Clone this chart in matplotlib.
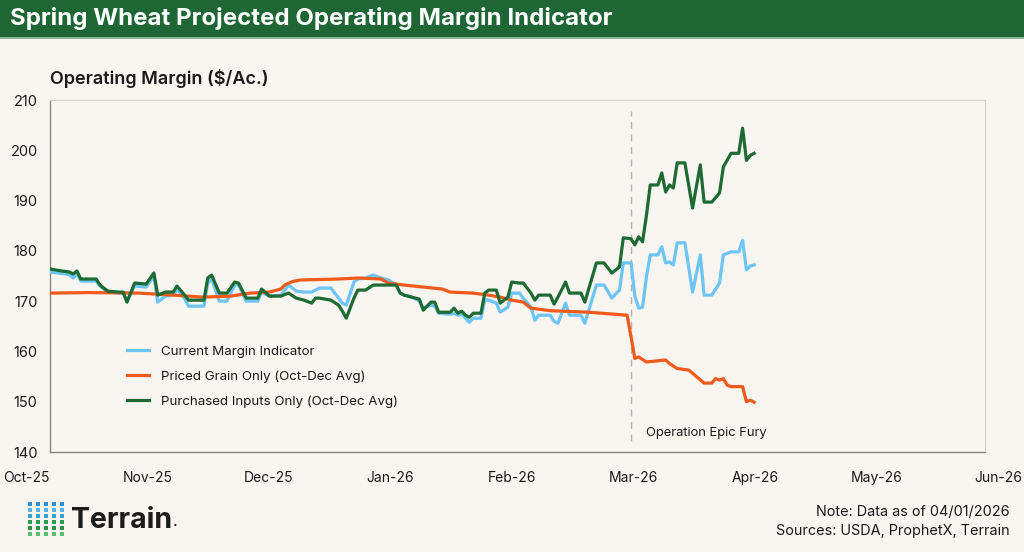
import matplotlib
matplotlib.use("Agg")
import matplotlib.pyplot as plt
import pandas as pd

plt.rcParams['font.family'] = ['Inter', 'DejaVu Sans']

# shared dates for the current margin and purchased-inputs series
dates = [
    "2025-10-01", "2025-10-04", "2025-10-06", "2025-10-07", "2025-10-08", "2025-10-09",
    "2025-10-13", "2025-10-14", "2025-10-16", "2025-10-19", "2025-10-20", "2025-10-21",
    "2025-10-23", "2025-10-26", "2025-10-28", "2025-10-29", "2025-10-31",
    "2025-11-02", "2025-11-03", "2025-11-05", "2025-11-06", "2025-11-10", "2025-11-11",
    "2025-11-12", "2025-11-14", "2025-11-16", "2025-11-18", "2025-11-19", "2025-11-21",
    "2025-11-24", "2025-11-25", "2025-11-27", "2025-11-30",
    "2025-12-02", "2025-12-04", "2025-12-06", "2025-12-08", "2025-12-09", "2025-12-10",
    "2025-12-13", "2025-12-15", "2025-12-16", "2025-12-17", "2025-12-19", "2025-12-20",
    "2025-12-22", "2025-12-24", "2025-12-26", "2025-12-28", "2025-12-30", "2025-12-31",
    "2026-01-01", "2026-01-03", "2026-01-05", "2026-01-06", "2026-01-08", "2026-01-09",
    "2026-01-10", "2026-01-13", "2026-01-14", "2026-01-15", "2026-01-16", "2026-01-17",
    "2026-01-18", "2026-01-19", "2026-01-21", "2026-01-22", "2026-01-23", "2026-01-25",
    "2026-01-26", "2026-01-28", "2026-01-29", "2026-01-31",
    "2026-02-01", "2026-02-03", "2026-02-04", "2026-02-05", "2026-02-08", "2026-02-09",
    "2026-02-10", "2026-02-12", "2026-02-13", "2026-02-16", "2026-02-17", "2026-02-20",
    "2026-02-22", "2026-02-24", "2026-02-26", "2026-02-27",
    "2026-03-01", "2026-03-02", "2026-03-03", "2026-03-04", "2026-03-05", "2026-03-06",
    "2026-03-08", "2026-03-09", "2026-03-10", "2026-03-11", "2026-03-12", "2026-03-13",
    "2026-03-15", "2026-03-17", "2026-03-19", "2026-03-20", "2026-03-22", "2026-03-24",
    "2026-03-25", "2026-03-27", "2026-03-29", "2026-03-30", "2026-03-31",
    "2026-04-01", "2026-04-02",
]

current_margin = [
    175.8, 175.5, 175.3, 174.6, 175.5, 174.0,
    174.0, 173.0, 171.8, 171.6, 171.6, 170.0,
    173.0, 172.8, 175.0, 169.8, 171.0,
    171.2, 172.4, 170.5, 169.0, 169.0, 173.5,
    174.5, 170.0, 170.0, 173.2, 173.2, 170.0,
    170.0, 171.8, 171.0, 171.2,
    173.2, 172.0, 171.8, 171.8, 172.2, 172.6,
    172.6, 170.6, 169.6, 169.2, 173.8, 174.4,
    174.6, 175.2, 174.6, 174.2, 173.2, 171.6,
    171.2, 170.8, 170.0, 168.6, 169.2, 169.0,
    167.6, 167.4, 167.6, 167.2, 167.4, 166.6,
    165.8, 166.6, 166.6, 170.2, 170.2, 169.6,
    167.8, 168.8, 171.6, 171.6,
    170.6, 168.8, 166.2, 167.2, 167.2, 166.0,
    165.6, 169.6, 167.2, 167.2, 165.6, 173.2,
    173.2, 170.6, 172.2, 177.6,
    177.6, 171.0, 168.6, 168.8, 174.8, 179.2,
    179.2, 180.8, 177.6, 177.8, 177.2, 181.6,
    181.6, 171.8, 179.2, 171.2, 171.2, 173.6,
    179.2, 179.8, 179.8, 182.1, 176.2,
    177.0, 177.2,
]

purchased_inputs = [
    176.4, 176.0, 175.8, 175.4, 176.0, 174.4,
    174.4, 173.2, 172.0, 171.8, 171.8, 169.8,
    173.6, 173.4, 175.6, 171.2, 171.8,
    171.8, 173.0, 171.2, 170.2, 170.2, 174.6,
    175.2, 171.6, 171.6, 173.8, 173.6, 170.6,
    170.6, 172.4, 171.0, 171.0,
    171.6, 170.6, 170.2, 169.6, 170.6, 170.6,
    170.2, 169.2, 168.0, 166.6, 170.6, 172.2,
    172.2, 173.2, 173.2, 173.2, 173.2, 171.6,
    171.2, 170.8, 170.4, 168.2, 169.8, 169.8,
    167.8, 167.8, 168.6, 167.6, 168.0, 167.2,
    166.8, 167.6, 167.6, 171.6, 172.2, 172.2,
    169.6, 170.8, 173.8, 173.6,
    173.6, 171.6, 170.2, 171.2, 171.2, 169.4,
    170.8, 173.8, 171.6, 171.6, 169.8, 177.6,
    177.6, 175.6, 176.8, 182.6,
    182.4, 181.2, 182.8, 181.8, 187.0, 193.1,
    193.1, 195.5, 191.7, 193.1, 192.5, 197.5,
    197.5, 188.5, 197.1, 189.7, 189.7, 191.5,
    196.7, 199.4, 199.4, 204.4, 198.0,
    199.0, 199.4,
]

grain_dates = [
    "2025-10-01", "2025-10-11", "2025-10-24", "2025-11-02", "2025-11-10", "2025-11-17",
    "2025-11-22", "2025-11-27", "2025-11-30", "2025-12-01", "2025-12-03", "2025-12-05",
    "2025-12-15", "2025-12-20", "2025-12-26", "2025-12-28", "2026-01-01", "2026-01-11",
    "2026-01-13", "2026-01-19", "2026-01-23", "2026-01-26", "2026-01-29", "2026-02-01",
    "2026-02-03", "2026-02-08", "2026-02-18", "2026-02-28", "2026-03-02", "2026-03-03",
    "2026-03-05", "2026-03-10", "2026-03-11", "2026-03-13", "2026-03-16", "2026-03-18",
    "2026-03-20", "2026-03-22", "2026-03-23", "2026-03-24", "2026-03-25", "2026-03-26",
    "2026-03-27", "2026-03-30", "2026-03-31", "2026-04-01", "2026-04-02",
]
priced_grain = [
    171.6, 171.7, 171.6, 171.2, 170.8, 171.0,
    171.6, 171.8, 172.4, 173.2, 173.9, 174.2,
    174.4, 174.6, 174.4, 173.6, 173.2, 172.4,
    171.8, 171.6, 171.2, 170.8, 170.2, 169.8,
    168.6, 168.1, 167.8, 167.2, 158.6, 158.9,
    157.9, 158.3, 157.6, 156.6, 156.3, 155.0,
    153.7, 153.7, 154.6, 154.3, 154.6, 153.3,
    153.0, 153.0, 150.0, 150.3, 149.9,
]

month_labels = ["Oct-25", "Nov-25", "Dec-25", "Jan-26", "Feb-26",
                "Mar-26", "Apr-26", "May-26", "Jun-26"]
x_start, x_end = "2025-10-01", "2026-06-01"
event_date = "2026-03-01"

BG = "#f9f5f1"
GREEN_BAR = "#1e6634"
BLUE = "#6cc5f6"
ORANGE = "#f15a1b"
GREEN = "#1d6a33"
TEXT = "#1a1a1a"

fig = plt.figure(figsize=(10.24, 5.52), dpi=100, facecolor=BG)

# title bar
fig.patches.append(plt.Rectangle((0, 1 - 37 / 552), 1, 37 / 552, transform=fig.transFigure,
                                 facecolor=GREEN_BAR, edgecolor="none", zorder=0))
fig.patches.append(plt.Rectangle((0, 1 - 39 / 552), 1, 2 / 552, transform=fig.transFigure,
                                 facecolor="#8fb89a", edgecolor="none", zorder=0))
fig.text(0.010, 1 - 19 / 552, "Spring Wheat Projected Operating Margin Indicator",
         color="white", fontsize=17.3, fontweight="bold", va="center", ha="left")

ax = fig.add_axes([50 / 1024, 1 - 452 / 552, 935 / 1024, 352 / 552])
ax.set_facecolor(BG)

d_main = pd.to_datetime(dates)
d_grain = pd.to_datetime(grain_dates)
ax.plot(d_main, current_margin, color=BLUE, lw=2.3, label="Current Margin Indicator", zorder=3)
ax.plot(d_grain, priced_grain, color=ORANGE, lw=2.3, label="Priced Grain Only (Oct-Dec Avg)", zorder=4)
ax.plot(d_main, purchased_inputs, color=GREEN, lw=2.3, label="Purchased Inputs Only (Oct-Dec Avg)", zorder=5)

ax.axvline(pd.Timestamp(event_date), ymin=0.03, ymax=0.97, color="#b8b2ac", lw=1.0,
           ls=(0, (5, 4)), zorder=1)
ax.text(pd.Timestamp(event_date) + pd.Timedelta(days=4), 143.8, "Operation Epic Fury",
        fontsize=9.3, color=TEXT, ha="left", va="center")

ax.set_xlim(pd.Timestamp(x_start), pd.Timestamp(x_end))
ax.set_ylim(140, 210)
ax.set_yticks(range(140, 211, 10))
ax.set_xticks([])
ax.tick_params(axis="both", length=0, labelsize=10.5, colors=TEXT)
ax.tick_params(axis="y", pad=9)

for side in ["top", "right"]:
    ax.spines[side].set_color("#d6d1cc")
    ax.spines[side].set_linewidth(0.8)
for side in ["left", "bottom"]:
    ax.spines[side].set_color("#8a8580")
    ax.spines[side].set_linewidth(1.0)

# month labels are spread evenly across the full width, as in the original
lab_ax = fig.add_axes([26 / 1024, 1 - 452 / 552, 972 / 1024, 0.001])
lab_ax.set_xlim(0, len(month_labels) - 1)
lab_ax.set_xticks(range(len(month_labels)))
lab_ax.set_xticklabels(month_labels)
lab_ax.set_yticks([])
lab_ax.patch.set_visible(False)
for s in lab_ax.spines.values():
    s.set_visible(False)
lab_ax.tick_params(axis="x", length=0, labelsize=10, colors=TEXT, pad=14)

fig.text(50 / 1024, 1 - 79 / 552, "Operating Margin ($/Ac.)", fontsize=13,
         fontweight="semibold", color=TEXT, ha="left", va="center")

ax.legend(loc="upper left", bbox_to_anchor=(0.07, 0.337), frameon=False, fontsize=9.6,
          handlelength=1.6, handletextpad=0.9, labelspacing=0.95, labelcolor=TEXT)

# footer notes
fig.text(1010 / 1024, 1 - 512 / 552, "Note: Data as of 04/01/2026", fontsize=10.4,
         color=TEXT, ha="right", va="center")
fig.text(1010 / 1024, 1 - 531 / 552, "Sources: USDA, ProphetX, Terrain", fontsize=10.4,
         color=TEXT, ha="right", va="center")

# Terrain logo: dot grid + wordmark
logo_rows = ["#2b8fd8", "#59b4ee", "#3a9fd0", "#2f9a4c", "#2e8f45", "#5cc06a"]
for r, c in enumerate(logo_rows):
    for k in range(5):
        fig.patches.append(plt.Rectangle(((28 + k * 8) / 1024, 1 - (506 + r * 6) / 552),
                                         4.2 / 1024, 3.6 / 552, transform=fig.transFigure,
                                         facecolor=c, edgecolor="none"))
word = fig.text(71 / 1024, 1 - 521 / 552, "Terrain", fontsize=20.5, fontweight="bold",
                color="#1c1c1c", ha="left", va="center")
fig.canvas.draw()
bb = word.get_window_extent()
fig.text((bb.x1 + 1) / 1024, (bb.y0 + 4) / 552, "\u00b7", fontsize=10, fontweight="bold",
         color="#1c1c1c", ha="left", va="baseline")

fig.savefig("out.png", dpi=100, facecolor=BG)
